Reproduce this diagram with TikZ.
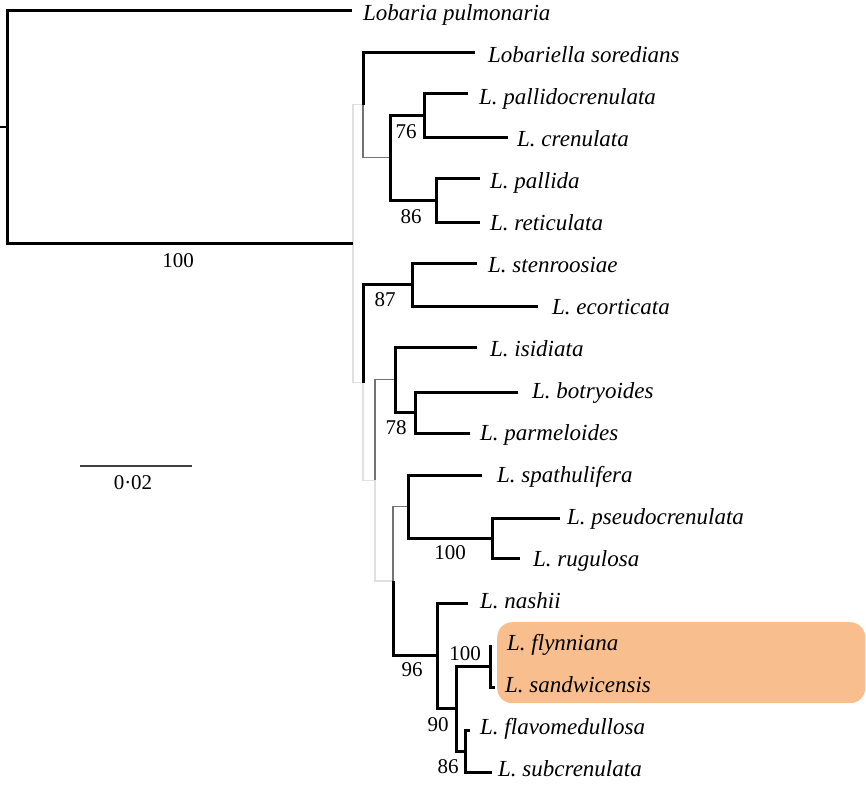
\documentclass[tikz,border=0pt]{standalone}
\usepackage{fontspec}
\setmainfont{Liberation Serif}
\definecolor{boxfill}{RGB}{248,190,142}
\begin{document}
\begin{tikzpicture}[x=1pt,y=-1pt,
  br/.style={line width=3pt, black},
  grayb/.style={line width=1.2pt, color=black!55},
  faintb/.style={line width=1.2pt, color=black!12},
  scalebar/.style={line width=1.3pt, color=black!75},
  taxon/.style={anchor=base west, inner sep=0pt, font=\fontsize{23}{27}\selectfont\itshape},
  supp/.style={anchor=center, inner sep=0pt, font=\fontsize{21}{25}\selectfont}]
\useasboundingbox (0,0) rectangle (866,785);
% highlight box
\node[fill=boxfill, draw=none, rounded corners=15pt, minimum width=368pt, minimum height=81pt, inner sep=0pt, anchor=north west] (hl) at (497,622) {};
% coordinates
\coordinate (tick) at (0,126.8);
\coordinate (root) at (7,126.8);
\coordinate (tpul) at (352,10);
\coordinate (I) at (353,243.6);
\coordinate (A) at (363,104.75);
\coordinate (tsor) at (475,52);
\coordinate (N2) at (390,157.5);
\coordinate (N76) at (424,115);
\coordinate (tpdc) at (468,93);
\coordinate (tcre) at (508,137);
\coordinate (N86a) at (436,200);
\coordinate (tpal) at (480,178);
\coordinate (tret) at (480,222);
\coordinate (B) at (363,382.5);
\coordinate (N87) at (412,284.5);
\coordinate (tste) at (477,263);
\coordinate (teco) at (538,306);
\coordinate (C) at (375,480.4);
\coordinate (Niso) at (395,379.75);
\coordinate (tisi) at (477,347);
\coordinate (N78) at (415,412.5);
\coordinate (tbot) at (518,392);
\coordinate (tpar) at (470,433);
\coordinate (D) at (393,581);
\coordinate (Nspa) at (408,506.5);
\coordinate (tspa) at (482,475);
\coordinate (N100a) at (492,538);
\coordinate (tpse) at (560,518);
\coordinate (trug) at (520,558);
\coordinate (N96) at (437,655.75);
\coordinate (tnas) at (468,603);
\coordinate (N90) at (456,708.5);
\coordinate (N100b) at (490,666);
\coordinate (tfly) at (490,645);
\coordinate (tsan) at (495,687);
\coordinate (N86b) at (465,751);
\coordinate (tfla) at (470,730);
\coordinate (tsub) at (492,772);
% faint branches
\draw[faintb] (I) |- (A);
\draw[faintb] (I) |- (B);
\draw[faintb] (B) |- (C);
\draw[faintb] (C) |- (D);
% gray branches
\draw[grayb] (A) |- (N2);
\draw[grayb] (C) |- (Niso);
\draw[grayb] (D) |- (Nspa);
% thick branches
\draw[br, line width=2.2pt] (tick) -- (root);
\draw[br] (root) |- (tpul);
\draw[br] (root) |- (I);
\draw[br] (A) |- (tsor);
\draw[br] (N2) |- (N76);
\draw[br] (N2) |- (N86a);
\draw[br] (N76) |- (tpdc);
\draw[br] (N76) |- (tcre);
\draw[br] (N86a) |- (tpal);
\draw[br] (N86a) |- (tret);
\draw[br] (B) |- (N87);
\draw[br] (N87) |- (tste);
\draw[br] (N87) |- (teco);
\draw[br] (Niso) |- (tisi);
\draw[br] (Niso) |- (N78);
\draw[br] (N78) |- (tbot);
\draw[br] (N78) |- (tpar);
\draw[br] (D) |- (N96);
\draw[br] (Nspa) |- (tspa);
\draw[br] (Nspa) |- (N100a);
\draw[br] (N100a) |- (tpse);
\draw[br] (N100a) |- (trug);
\draw[br] (N96) |- (tnas);
\draw[br] (N96) |- (N90);
\draw[br] (N90) |- (N100b);
\draw[br] (N90) |- (N86b);
\draw[br] (N100b) |- (tfly);
\draw[br] (N100b) |- (tsan);
\draw[br] (N86b) |- (tfla);
\draw[br] (N86b) |- (tsub);
% taxon labels
\node[taxon] (lpul) at (363,20.5) {Lobaria pulmonaria};
\node[taxon] (lsor) at (488,62.5) {Lobariella soredians};
\node[taxon] (lpdc) at (479,104.5) {L. pallidocrenulata};
\node[taxon] (lcre) at (517,146.5) {L. crenulata};
\node[taxon] (lpal) at (490,188.5) {L. pallida};
\node[taxon] (lret) at (490,230.5) {L. reticulata};
\node[taxon] (lste) at (488,272.5) {L. stenroosiae};
\node[taxon] (leco) at (552,314.5) {L. ecorticata};
\node[taxon] (lisi) at (490,356.5) {L. isidiata};
\node[taxon] (lbot) at (532,398.5) {L. botryoides};
\node[taxon] (lpar) at (480,440.5) {L. parmeloides};
\node[taxon] (lspa) at (497,482.5) {L. spathulifera};
\node[taxon] (lpse) at (567,524.5) {L. pseudocrenulata};
\node[taxon] (lrug) at (533,566.5) {L. rugulosa};
\node[taxon] (lnas) at (480,608.5) {L. nashii};
\node[taxon] (lfly) at (507,650.5) {L. flynniana};
\node[taxon] (lsan) at (505,692.5) {L. sandwicensis};
\node[taxon] (lfla) at (480,734.5) {L. flavomedullosa};
\node[taxon] (lsub) at (498,776.5) {L. subcrenulata};
% support values
\node[supp] (s100r) at (178,261) {100};
\node[supp] (s76) at (406,132) {76};
\node[supp] (s86a) at (411,217) {86};
\node[supp] (s87) at (385,300) {87};
\node[supp] (s78) at (396,428) {78};
\node[supp] (s100a) at (450,553) {100};
\node[supp] (s96) at (412,670) {96};
\node[supp] (s100b) at (465,654) {100};
\node[supp] (s90) at (438,725) {90};
\node[supp] (s86b) at (448,767) {86};
% scale bar
\coordinate (sb1) at (80,466);
\coordinate (sb2) at (192,466);
\draw[scalebar] (sb1) -- (sb2);
\node[supp] (sblab) at (133,483) {0·02};
\end{tikzpicture}
\end{document}
